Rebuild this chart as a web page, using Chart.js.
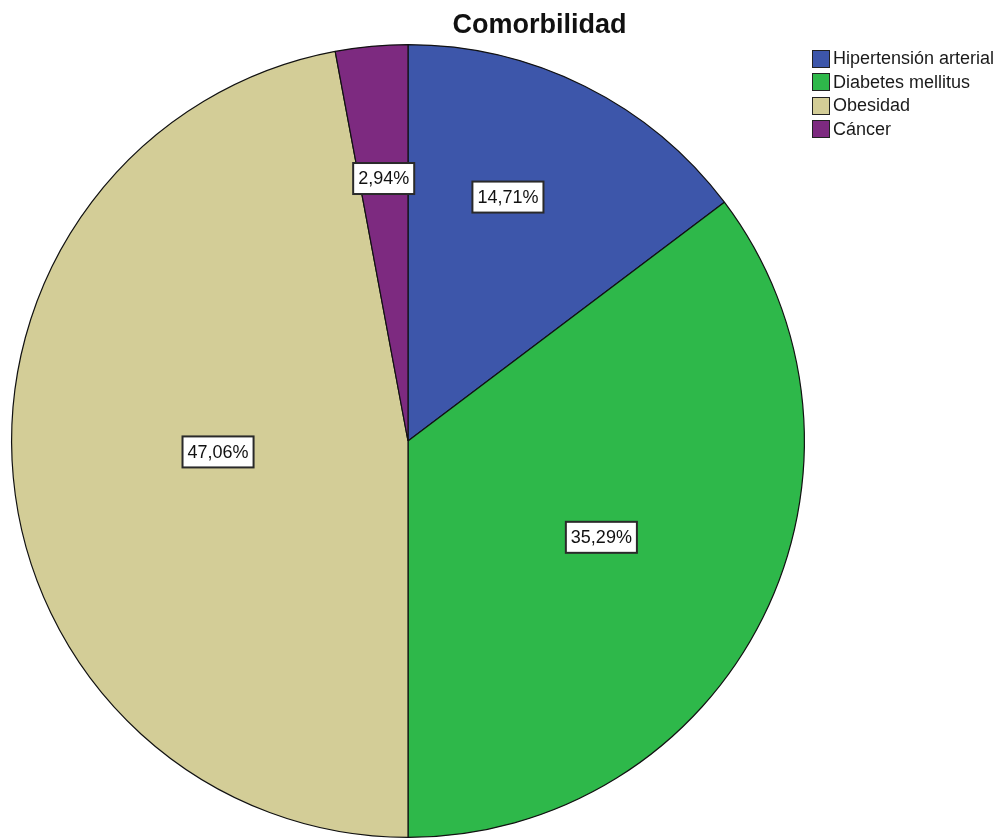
<!DOCTYPE html>
<html>
<head>
<meta charset="utf-8">
<script src="https://cdn.jsdelivr.net/npm/chart.js@4/dist/chart.umd.min.js"></script>
<style>
  html, body { margin: 0; padding: 0; background: #fff; }
  #wrap { position: relative; width: 1003px; height: 839px; overflow: hidden; font-family: "Liberation Sans", Arial, sans-serif; }
  #c { position: absolute; left: 0; top: 0; }
  #title { position: absolute; left: 0; width: 1079px; top: 9px; text-align: center; font-weight: bold; font-size: 27px; color: #111; }
  #legend { position: absolute; left: 812px; top: 47px; }
  .item { display: flex; align-items: center; height: 23.5px; font-size: 18px; color: #1a1a1a; white-space: nowrap; }
  .sw { width: 16px; height: 16px; border: 1.5px solid #222; margin-right: 3px; box-sizing: content-box; }
</style>
</head>
<body>
<div id="wrap">
  <canvas id="c" width="1003" height="839"></canvas>
  <div id="title">Comorbilidad</div>
  <div id="legend"></div>
</div>
<script>
const categories = ["Hipertensión arterial", "Diabetes mellitus", "Obesidad", "Cáncer"];
const values = [14.71, 35.29, 47.06, 2.94];
const valueLabels = ["14,71%", "35,29%", "47,06%", "2,94%"];
const colors = ["#3D56AA", "#2EB84A", "#D3CD97", "#7D2A80"];

// legend as HTML text
const legend = document.getElementById('legend');
categories.forEach((c, i) => {
  const d = document.createElement('div');
  d.className = 'item';
  const s = document.createElement('div');
  s.className = 'sw';
  s.style.background = colors[i];
  const t = document.createElement('span');
  t.textContent = c;
  d.appendChild(s); d.appendChild(t);
  legend.appendChild(d);
});

const labelRadius = [0.665, 0.545, 0.48, 0.665];
const labelAngleShift = [-4.2, 0, 2, 0];

const boxLabels = {
  id: 'boxLabels',
  afterDatasetsDraw(chart) {
    const ctx = chart.ctx;
    const meta = chart.getDatasetMeta(0);
    ctx.save();
    ctx.font = '18px "Liberation Sans", Arial, sans-serif';
    ctx.textAlign = 'center';
    ctx.textBaseline = 'middle';
    meta.data.forEach((arc, i) => {
      const p = arc.getProps(['x', 'y', 'startAngle', 'endAngle', 'outerRadius'], true);
      const mid = (p.startAngle + p.endAngle) / 2 + labelAngleShift[i] * Math.PI / 180;
      const r = p.outerRadius * labelRadius[i];
      const x = p.x + Math.cos(mid) * r;
      const y = p.y + Math.sin(mid) * r;
      const txt = valueLabels[i];
      const w = ctx.measureText(txt).width + 10;
      const h = 31;
      ctx.fillStyle = '#fff';
      ctx.fillRect(x - w / 2, y - h / 2, w, h);
      ctx.lineWidth = 2;
      ctx.strokeStyle = '#2a2a2a';
      ctx.strokeRect(x - w / 2, y - h / 2, w, h);
      ctx.fillStyle = '#111';
      ctx.fillText(txt, x, y + 1);
    });
    ctx.restore();
  }
};

new Chart(document.getElementById('c'), {
  type: 'pie',
  data: {
    labels: categories,
    datasets: [{
      data: values,
      backgroundColor: colors,
      borderColor: '#111',
      borderWidth: 1.2,
      borderAlign: 'center'
    }]
  },
  options: {
    responsive: false,
    animation: false,
    layout: { padding: { left: 11, right: 198, top: 44, bottom: 1 } },
    plugins: {
      legend: { display: false },
      tooltip: { enabled: false },
      title: { display: false }
    }
  },
  plugins: [boxLabels]
});
</script>
</body>
</html>
